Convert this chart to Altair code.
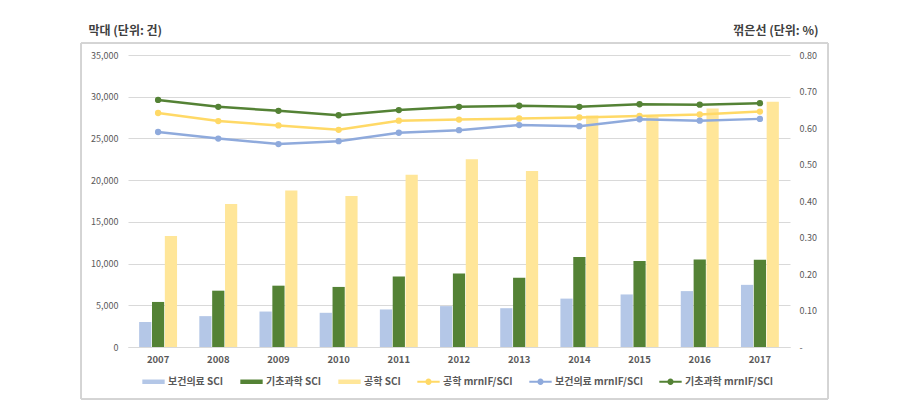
import altair as alt
import pandas as pd

years = ["2007", "2008", "2009", "2010", "2011", "2012", "2013", "2014", "2015", "2016", "2017"]

health_sci = [3000, 3700, 4250, 4100, 4500, 4900, 4650, 5800, 6300, 6700, 7450]
basic_sci = [5400, 6750, 7350, 7200, 8450, 8800, 8300, 10800, 10300, 10500, 10450]
eng_sci = [13300, 17150, 18750, 18100, 20650, 22500, 21100, 27750, 27600, 28600, 29400]

eng_if = [0.641, 0.619, 0.607, 0.595, 0.620, 0.623, 0.626, 0.629, 0.633, 0.637, 0.645]
health_if = [0.589, 0.571, 0.556, 0.564, 0.587, 0.594, 0.608, 0.605, 0.624, 0.620, 0.625]
basic_if = [0.677, 0.658, 0.647, 0.635, 0.649, 0.658, 0.661, 0.658, 0.665, 0.664, 0.668]

bar_names = ["보건의료 SCI", "기초과학 SCI", "공학 SCI"]
line_names = ["공학 mrnIF/SCI", "보건의료 mrnIF/SCI", "기초과학 mrnIF/SCI"]
all_names = bar_names + line_names
colors = ["#B4C7E7", "#548235", "#FFE699", "#FFD966", "#8FAADC", "#548235"]

BAR_SYM = "M-1,-0.2H1V0.2H-1Z"
LINE_SYM = ("M-1,-0.08H1V0.08H-1Z M0.28,0A0.28,0.28 0 1,1 -0.28,0"
            "A0.28,0.28 0 1,1 0.28,0Z")
shapes = [BAR_SYM, BAR_SYM, BAR_SYM, LINE_SYM, LINE_SYM, LINE_SYM]

rows = []
for name, vals in zip(bar_names, [health_sci, basic_sci, eng_sci]):
    for y, v in zip(years, vals):
        rows.append({"year": y, "series": name, "value": v, "kind": "bar"})
for name, vals in zip(line_names, [eng_if, health_if, basic_if]):
    for y, v in zip(years, vals):
        rows.append({"year": y, "series": name, "value": v, "kind": "line"})
df = pd.DataFrame(rows)

FONT = "Noto Sans CJK KR"
TXT = "#595959"

xenc = alt.X("year:N", scale=alt.Scale(domain=years, paddingInner=0.37, paddingOuter=0.185),
             axis=alt.Axis(title=None, labelAngle=0, ticks=False, domainColor="#D9D9D9",
                           labelPadding=7, labelFontWeight="bold", labelFontSize=9.5,
                           labelColor=TXT, labelFont=FONT, grid=False))

legend = alt.Legend(title=None, orient="none", legendX=14, legendY=315, direction="horizontal",
                    columns=6, columnPadding=16, symbolSize=500, symbolStrokeWidth=0,
                    labelFont=FONT, labelFontSize=10, labelFontWeight="bold", labelColor=TXT,
                    labelLimit=300, labelOffset=3, symbolOpacity=1)

color = alt.Color("series:N", scale=alt.Scale(domain=all_names, range=colors), legend=legend)

bars = alt.Chart(df).transform_filter(alt.datum.kind == "bar").mark_bar(opacity=1).encode(
    x=xenc,
    xOffset=alt.XOffset("series:N", scale=alt.Scale(domain=bar_names, paddingInner=0.05, paddingOuter=0)),
    y=alt.Y("value:Q", scale=alt.Scale(domain=[0, 35000]),
            axis=alt.Axis(title="막대 (단위: 건)", titleAngle=0, titleAlign="left", titleBaseline="middle",
                          titleX=-40, titleY=-25, titleFont=FONT, titleFontSize=12, titleFontWeight="bold",
                          titleColor="#404040", values=list(range(0, 35001, 5000)), format=",.0f",
                          ticks=False, domain=False, gridColor="#D9D9D9", labelPadding=10,
                          labelFont=FONT, labelFontSize=9, labelColor=TXT)),
    color=color,
)

yline = alt.Y("value:Q", scale=alt.Scale(domain=[0, 0.8]),
              axis=alt.Axis(orient="right", title="꺾은선 (단위: %)", titleAngle=0, titleAlign="right",
                            titleBaseline="middle", titleX=28, titleY=-25, titleFont=FONT, titleFontSize=12,
                            titleFontWeight="bold", titleColor="#404040",
                            values=[0, 0.1, 0.2, 0.3, 0.4, 0.5, 0.6, 0.7, 0.8],
                            labelExpr="datum.value == 0 ? '-' : format(datum.value, '.2f')",
                            ticks=False, domain=False, grid=False, labelPadding=9, labelFont=FONT,
                            labelFontSize=9, labelColor=TXT))

line_base = alt.Chart(df).transform_filter(alt.datum.kind == "line")
lines = line_base.mark_line(strokeWidth=2.5, opacity=1).encode(x=xenc, y=yline, color=color)
points = line_base.mark_circle(size=40, opacity=1).encode(x=xenc, y=yline, color=color)
carrier = line_base.transform_filter("false").mark_point(filled=True, opacity=1).encode(
    x=xenc, y=yline, color=color,
    shape=alt.Shape("series:N", scale=alt.Scale(domain=all_names, range=shapes), legend=legend),
)

line_layer = alt.layer(lines, points, carrier)

frame = alt.Chart(df).mark_rect(fill=None, stroke="#D4D4D4", strokeWidth=1).encode(
    x=alt.value(-47), x2=alt.value(700), y=alt.value(-12), y2=alt.value(344))

chart = alt.layer(frame, bars, line_layer).resolve_scale(y="independent").properties(
    width=662, height=292,
    padding={"left": 128, "top": 55, "right": 109, "bottom": 72},
    autosize=alt.AutoSizeParams(type="none"),
    background="white",
).configure_view(stroke=None)

chart.save("out.html", embed_options={"renderer": "svg", "actions": False})
